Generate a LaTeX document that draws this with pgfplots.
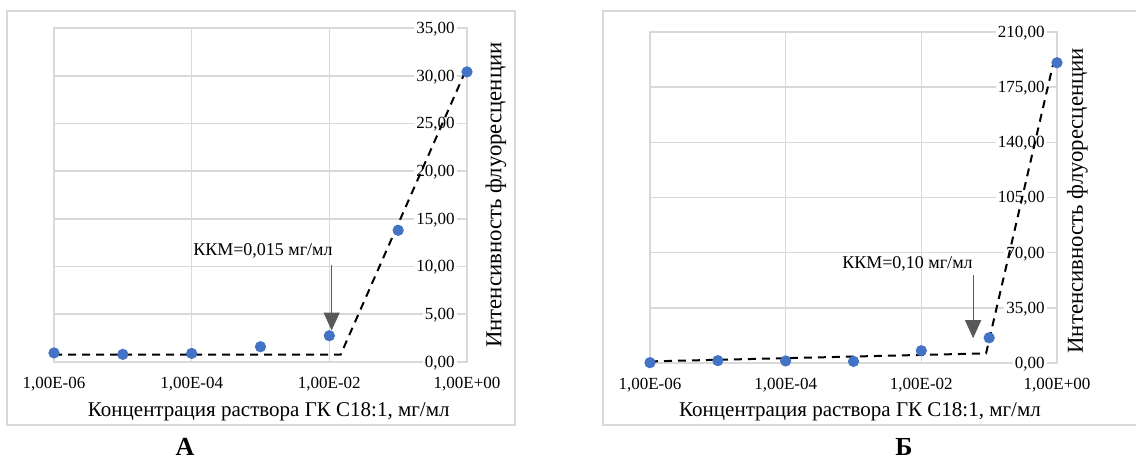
\documentclass[border=0pt]{standalone}
\usepackage{pgfplots}
\pgfplotsset{compat=1.18}
\usepackage{fontspec}
\setmainfont{Liberation Serif}
\usetikzlibrary{arrows.meta}

\definecolor{ptblue}{HTML}{4472C4}
\definecolor{gridgray}{HTML}{D9D9D9}
\definecolor{arrowgray}{HTML}{595959}

\tikzset{
    kkmarrow/.style={arrowgray, line width=0.6pt, -{Triangle[width=8pt,length=9pt]}},
}
\pgfplotsset{
    kkm/.style={
        set layers=standard,
        scale only axis,
        xmin=1e-6, xmax=1,
        xtick={1e-6,1e-4,1e-2,1},
        xticklabels={{1,00E-06},{1,00E-04},{1,00E-02},{1,00E+00}},
        ymin=0,
        grid=major,
        grid style={gridgray, line width=0.8pt},
        axis line style={gridgray, line width=0.8pt},
        major tick length=0pt,
        yticklabel pos=right,
        yticklabel style={anchor=east, fill=white, inner sep=1pt, xshift=-5pt, yshift=-0.5pt,
            /pgf/number format/fixed, /pgf/number format/fixed zerofill,
            /pgf/number format/precision=2, /pgf/number format/use comma},
        xticklabel style={yshift=-4pt},
        ticklabel style={font=\fontsize{8.5}{10}\selectfont},
        /pgf/number format/assume math mode=true,
        xlabel style={font=\fontsize{10.5}{12}\selectfont},
        ylabel style={font=\fontsize{11.4}{13}\selectfont},
        clip=false,
    },
    pts/.style={only marks, mark=*, mark size=2.6pt, color=ptblue},
    trend/.style={black, line width=1pt, dash pattern=on 4pt off 3pt, mark=none},
}

\begin{document}
\begin{tikzpicture}

% frames (coordinates in reference pixels, 1 px = 0.5 pt)
\begin{scope}[x=0.5pt, y=0.5pt]
\draw[gridgray, line width=1pt] (7,34) rectangle (515,448);
\draw[gridgray, line width=1pt] (1140,448) -- (603,448) -- (603,34) -- (1140,34);
\node[font=\bfseries\fontsize{13}{15}\selectfont] at (185,12) {А};
\node[font=\bfseries\fontsize{13}{15}\selectfont] at (904,12) {Б};
\end{scope}

% panel A
\begin{semilogxaxis}[kkm,
    at={(27pt,48.5pt)}, anchor=south west,
    width=206.5pt, height=167pt,
    ymax=35, ytick={0,5,...,35},
    xlabel={Концентрация раствора ГК С18:1, мг/мл},
    xlabel style={at={(axis description cs:0.52,-0.15)}, anchor=center},
    ylabel={Интенсивность флуоресценции},
    ylabel style={at={(axis description cs:1.07,0.5)}, anchor=center},
]
\addplot[trend] coordinates {(1e-6,0.77) (0.0146,0.77) (0.9,30.1)};
\addplot[pts] coordinates {
    (1e-6,0.95) (1e-5,0.8) (1e-4,0.9) (1e-3,1.6) (1e-2,2.75) (1e-1,13.8) (1,30.4)
};
\draw[kkmarrow] (axis cs:0.0108,10.2) -- (axis cs:0.0108,3.3);
\node[anchor=east, inner sep=0pt, font=\fontsize{9}{10.5}\selectfont]
    at (axis cs:0.0113,11.6) {ККМ=0,015 мг/мл};
\end{semilogxaxis}

% panel B
\begin{semilogxaxis}[kkm,
    at={(325pt,48pt)}, anchor=south west,
    width=203.5pt, height=165.5pt,
    ymax=210, ytick={0,35,...,210},
    xlabel={Концентрация раствора ГК С18:1, мг/мл},
    xlabel style={at={(axis description cs:0.516,-0.147)}, anchor=center},
    ylabel={Интенсивность флуоресценции},
    ylabel style={at={(axis description cs:1.05,0.49)}, anchor=center},
]
\addplot[trend] coordinates {(1e-6,1.0) (0.09,6.1) (0.87,189)};
\addplot[pts] coordinates {
    (1e-6,0.2) (1e-5,1.5) (1e-4,1.3) (1e-3,1.0) (1e-2,7.8) (1e-1,16) (1,190.5)
};
\draw[kkmarrow] (axis cs:0.058,55.8) -- (axis cs:0.058,15.7);
\node[anchor=east, inner sep=0pt, font=\fontsize{9}{10.5}\selectfont]
    at (axis cs:0.0578,62.8) {ККМ=0,10 мг/мл};
\end{semilogxaxis}

\pgfresetboundingbox
\useasboundingbox (0,0) rectangle (568pt,229.5pt);
\end{tikzpicture}
\end{document}
